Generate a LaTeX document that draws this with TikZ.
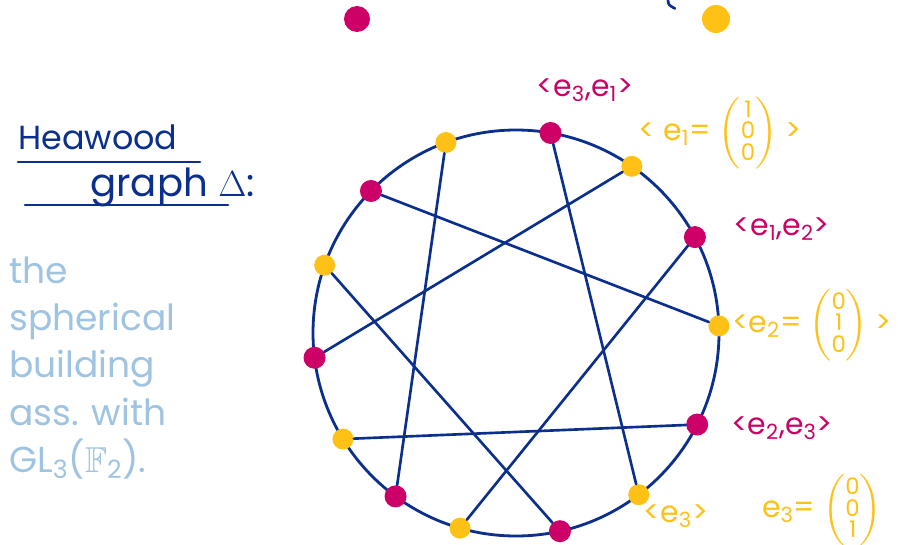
\documentclass[tikz,border=0pt]{standalone}
\usepackage{amsmath,amssymb}
\usepackage{fontspec}
\setmainfont{Poppins}
\usetikzlibrary{calc}
\definecolor{Navy}{HTML}{0B2F8C}
\definecolor{Berry}{HTML}{CC0066}
\definecolor{Amber}{HTML}{FFC116}
\definecolor{Sky}{HTML}{9EC4E2}
\newcommand{\colvec}[3]{\(\left(\vcenter{\hbox{\fontsize{13}{11}\selectfont\renewcommand{\arraystretch}{0.8}\begin{tabular}{@{}c@{}}#1\\#2\\#3\end{tabular}}}\right)\)}

\begin{document}
\begin{tikzpicture}[mdot/.style={circle,fill=Berry,inner sep=0pt,minimum size=0.44cm},ydot/.style={circle,fill=Amber,inner sep=0pt,minimum size=0.42cm},chord/.style={draw=Navy,line width=1.5pt,line cap=round},mlabel/.style={text=Berry,font=\fontsize{17}{20}\selectfont},ylabel/.style={text=Amber,font=\fontsize{17}{20}\selectfont}]
\useasboundingbox (0,0) rectangle (17.96,-10.88);
\fill[white] (0,0) rectangle (17.96,-10.88);
% cut-off bits at the top edge
\node[circle,fill=Berry,inner sep=0pt,minimum size=0.52cm] (topm) at (7.14,-0.38){};
\node[circle,fill=Amber,inner sep=0pt,minimum size=0.56cm] (topy) at (14.32,-0.38){};
\draw[Navy,line width=1.5pt,line cap=round] (13.36,0) .. controls (13.37,-0.1) .. (13.5,-0.17);
% title
\node[text=Navy,font=\fontsize{19}{22}\selectfont] (title) at (1.96,-2.74){Heawood};
\node[text=Navy,font=\fontsize{22}{24}\selectfont] (graph) at (3.45,-3.74){graph \(\Delta\):};
\draw[Navy,line width=1.5pt,line cap=round] (0.36,-3.24) -- (4.0,-3.24);
\draw[Navy,line width=1.5pt,line cap=round] (0.5,-4.1) -- (4.56,-4.1);
\node[text=Sky,font=\fontsize{20.5}{27}\selectfont,anchor=north west,align=left,inner sep=0pt] (note) at (0.18,-5.12){the\\spherical\\building\\ass. with\\GL\textsubscript{3}(\(\mathbb{F}\)\textsubscript{2}).};
% the graph
\coordinate (c) at (10.32,-6.66);
\draw[Navy,line width=1.6pt] (c) circle (4.06);
\node[mdot] (v1) at ($(c)+(80.2:4.06)$){};
\node[ydot] (v2) at ($(c)+(55.2:4.06)$){};
\node[mdot] (v3) at ($(c)+(28.2:4.06)$){};
\node[ydot] (v4) at ($(c)+(2:4.06)$){};
\node[mdot] (v5) at ($(c)+(-26.8:4.06)$){};
\node[ydot] (v6) at ($(c)+(-52.8:4.06)$){};
\node[mdot] (v7) at ($(c)+(-77.5:4.06)$){};
\node[ydot] (v8) at ($(c)+(-106:4.06)$){};
\node[mdot] (v9) at ($(c)+(-126.4:4.06)$){};
\node[ydot] (v10) at ($(c)+(-148.5:4.06)$){};
\node[mdot] (v11) at ($(c)+(-173:4.06)$){};
\node[ydot] (v12) at ($(c)+(160.5:4.06)$){};
\node[mdot] (v13) at ($(c)+(135.6:4.06)$){};
\node[ydot] (v14) at ($(c)+(110.2:4.06)$){};
\draw[chord] (v1) -- (v6);\draw[chord] (v3) -- (v8);\draw[chord] (v5) -- (v10);\draw[chord] (v7) -- (v12);
\draw[chord] (v9) -- (v14);\draw[chord] (v11) -- (v2);\draw[chord] (v13) -- (v4);
% labels
\node[mlabel] (l31) at (11.7,-1.8){<e\textsubscript{3},e\textsubscript{1}>};
\node[ylabel] (l1) at (14.4,-2.66){< e\textsubscript{1}= \colvec{1}{0}{0} >};
\node[mlabel] (l12) at (15.64,-4.58){<e\textsubscript{1},e\textsubscript{2}>};
\node[ylabel] (l2) at (16.24,-6.5){<e\textsubscript{2}= \colvec{0}{1}{0} >};
\node[mlabel] (l23) at (15.64,-8.56){<e\textsubscript{2},e\textsubscript{3}>};
\node[ylabel] (l3) at (13.52,-10.32){<e\textsubscript{3}>};
\node[ylabel] (v3def) at (16.44,-10.2){e\textsubscript{3}= \colvec{0}{0}{1}};
\end{tikzpicture}
\end{document}
